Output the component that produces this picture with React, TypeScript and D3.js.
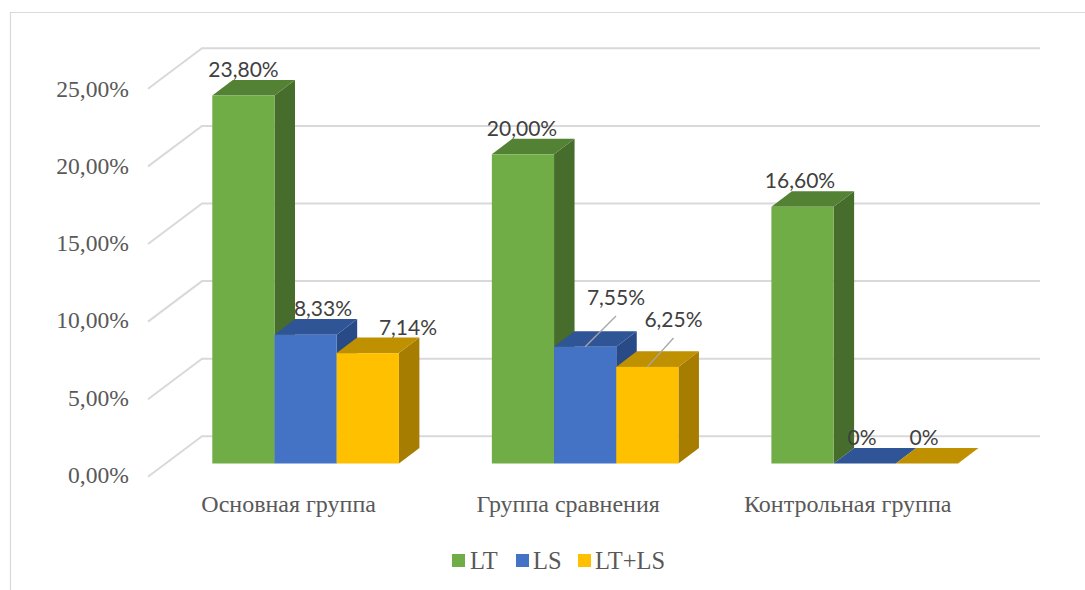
import React from "react";
import * as d3 from "d3";

const categories = ["Основная группа", "Группа сравнения", "Контрольная группа"];
const seriesNames = ["LT", "LS", "LT+LS"];
const ltValues = [23.8, 20, 16.6];
const lsValues = [8.33, 7.55, 0];
const ltLsValues = [7.14, 6.25, 0];
const valueLabels = [
  ["23,80%", "20,00%", "16,60%"],
  ["8,33%", "7,55%", "0%"],
  ["7,14%", "6,25%", "0%"],
];
const tickValues = [0, 5, 10, 15, 20, 25];
const tickLabels = ["0,00%", "5,00%", "10,00%", "15,00%", "20,00%", "25,00%"];

const seriesValues = [ltValues, lsValues, ltLsValues];
const palette = [
  { front: "#70ad47", top: "#548235", side: "#466d2b" },
  { front: "#4472c4", top: "#2f5597", side: "#284a86" },
  { front: "#ffc000", top: "#bf9000", side: "#a67d00" },
];

const SERIF = "'Liberation Serif', serif";
const LABEL_FONT = "Lato, 'Open Sans', sans-serif";

// Oblique offsets of the pseudo-3D projection
const BAR_DX = 20.5;
const BAR_DY = -15.6;
const WALL_DX = 54;
const WALL_DY = -40.5;
const FLOOR_FRONT_X = 148;
const GRID_RIGHT = 1040;

const y = d3.scaleLinear().domain([0, 25]).range([463.5, 77]);
// The floor-to-wall grid sits on its own plane, slightly further apart than the bars
const gridY = d3.scaleLinear().domain([0, 25]).range([476.8, 88.8]);
const tickTextY = d3.scaleLinear().domain([0, 25]).range([482.8, 96.8]);
const x0 = d3.scaleBand<string>().domain(categories).range([212.3, 958]).paddingInner(0.3325);
const x1 = d3.scaleBand<string>().domain(seriesNames).range([0, x0.bandwidth()]);

// Label anchor positions per series and group: [centre x, baseline y]
const labelPositions = [
  [[243.5, 77], [522, 136], [800, 188]],
  [[323, 316], [616, 305], [862, 445]],
  [[408, 335], [673.5, 327], [924, 445]],
];
const leaders = [
  { series: 1, group: 1, x2: 616, y2: 316 },
  { series: 2, group: 1, x2: 673.5, y2: 338 },
];
const legendItems = [
  { swatch: 452, text: 470 },
  { swatch: 516, text: 533 },
  { swatch: 578, text: 595 },
];

function Bar({ x, w, v, colors }: { x: number; w: number; v: number; colors: (typeof palette)[number] }) {
  const b = y(0);
  const t = y(v);
  const poly = d3.line();
  const sidePath = poly([[x + w, t], [x + w + BAR_DX, t + BAR_DY], [x + w + BAR_DX, b + BAR_DY], [x + w, b]]) + "Z";
  const topPath = poly([[x, t], [x + BAR_DX, t + BAR_DY], [x + w + BAR_DX, t + BAR_DY], [x + w, t]]) + "Z";
  return (
    <g>
      {v > 0 && <path d={sidePath} fill={colors.side} />}
      <path d={topPath} fill={colors.top} />
      {v > 0 && <rect x={x} y={t} width={w} height={b - t} fill={colors.front} />}
    </g>
  );
}

export default function App() {
  return (
    <svg
      width={1085}
      height={590}
      style={{ position: "absolute", left: 0, top: 0, display: "block", background: "#fff" }}
    >
      <path d="M1085,12.5H10.5V590" fill="none" stroke="#d9d9d9" strokeWidth={1.2} />

      {tickValues.map((v, i) => {
        const yf = gridY(v);
        return (
          <g key={v}>
            <path
              d={`M${FLOOR_FRONT_X},${yf}L${FLOOR_FRONT_X + WALL_DX},${yf + WALL_DY}H${GRID_RIGHT}`}
              fill="none"
              stroke="#d9d9d9"
              strokeWidth={2}
            />
            <text x={129} y={tickTextY(v)} textAnchor="end" fontFamily={SERIF} fontSize={23.6} fill="#595959">
              {tickLabels[i]}
            </text>
          </g>
        );
      })}

      {categories.map((c, g) => (
        <g key={c}>
          {seriesNames.map((s, i) => (
            <Bar
              key={s}
              x={(x0(c) as number) + (x1(s) as number)}
              w={x1.bandwidth()}
              v={seriesValues[i][g]}
              colors={palette[i]}
            />
          ))}
          <text
            x={(x0(c) as number) + x0.bandwidth() / 2 - 17}
            y={512}
            textAnchor="middle"
            fontFamily={SERIF}
            fontSize={24}
            fill="#595959"
          >
            {c}
          </text>
        </g>
      ))}

      {leaders.map((l) => {
        const bx = (x0(categories[l.group]) as number) + (x1(seriesNames[l.series]) as number) + x1.bandwidth() / 2;
        return (
          <line
            key={l.series}
            x1={bx}
            y1={y(seriesValues[l.series][l.group])}
            x2={l.x2}
            y2={l.y2}
            stroke="#a6a6a6"
            strokeWidth={1.3}
          />
        );
      })}

      {valueLabels.map((row, i) =>
        row.map((t, g) => (
          <text
            key={`${i}-${g}`}
            x={labelPositions[i][g][0]}
            y={labelPositions[i][g][1]}
            textAnchor="middle"
            fontFamily={LABEL_FONT}
            fontSize={21}
            fill="#404040"
          >
            {t}
          </text>
        ))
      )}

      {seriesNames.map((s, i) => (
        <g key={s}>
          <rect x={legendItems[i].swatch} y={554} width={13} height={13} fill={palette[i].front} />
          <text x={legendItems[i].text} y={569} fontFamily={SERIF} fontSize={24.5} fill="#595959">
            {s}
          </text>
        </g>
      ))}
    </svg>
  );
}
